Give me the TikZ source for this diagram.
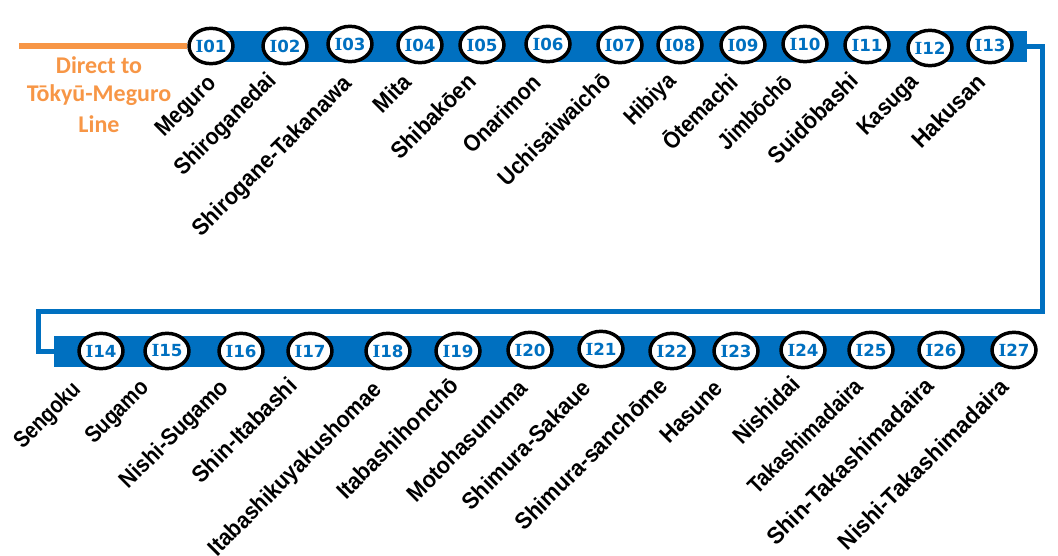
\documentclass[tikz,border=0pt]{standalone}
\usepackage{fontspec}
\usepackage{graphicx}
\usetikzlibrary{shapes.geometric}
\setmainfont{Liberation Sans}
\newfontfamily\codesans{DejaVu Sans}
\newfontfamily\codeserif{DejaVu Serif}
\newfontfamily\notefont{Carlito}
\definecolor{lineblue}{HTML}{0070C0}
\definecolor{noteorange}{HTML}{F79646}
\newcommand{\stcode}[1]{{\codeserif\bfseries I}#1}
\newcommand{\fitlabel}[2]{\resizebox{\dimexpr #1pt*104/100\relax}{\height}{#2}}
\tikzset{
  x=0.75pt,y=-0.75pt,
  bar/.style={fill=lineblue,draw=none,inner sep=0pt,minimum height=23.25pt},
  conn/.style={draw=lineblue,line width=4.2pt},
  station/.style={ellipse,draw=black,line width=2.6pt,fill=white,minimum width=33pt,minimum height=26.5pt,inner sep=0pt,text=lineblue,font=\codesans\bfseries\fontsize{12.5}{13}\selectfont},
  stlabel/.style={rotate=45,anchor=center,inner sep=0pt,outer sep=0pt,font=\bfseries\fontsize{17.5}{19}\selectfont,text=black},
  note/.style={text=noteorange,font=\notefont\bfseries\fontsize{18}{20}\selectfont,inner sep=0pt}
}
\begin{document}
\begin{tikzpicture}
\useasboundingbox (0,0) rectangle (1058,556);
\node[bar,minimum width=616.5pt] (bar1) at (616,46.5) {};
\node[bar,minimum width=728.25pt] (bar2) at (539.5,351.5) {};
\coordinate (cR) at (1042.5,311.5);
\coordinate (cL) at (38.5,311.5);
\coordinate (od) at (19,46);
\draw[conn] (bar1.east) -| (cR) -- (cL) |- (bar2.west);
\foreach \n/\code/\x/\y/\lab/\lx/\ly/\lw in {
 I01/01/211/46/Meguro/187/107/53.6,
 I02/02/285/46/Shiroganedai/226/125/96,
 I03/03/350/44/Shirogane-Takanawa/273/157/155,
 I04/04/420/45/Mita/392/93/31,
 I05/05/482/45/Shibakōen/433/116/79,
 I06/06/548/44/Onarimon/502/114/71.5,
 I07/07/620/45/Uchisaiwaichō/554/129/107,
 I08/08/680/45/Hibiya/651/100/44.5,
 I09/09/743/45/Ōtemachi/699/111/68.5,
 I10/10/805/44/Jimbōchō/755/112/68,
 I11/11/867/45/Suidōbashi/813/118/84,
 I12/12/930/48/Kasuga/889/106/54.7,
 I13/13/990/45/Hakusan/948/111/67,
 I14/14/101/351/Sengoku/48/416/60,
 I15/15/167/351/Sugamo/118/413/57,
 I16/16/241/351/Nishi-Sugamo/175/435/102.5,
 I17/17/310/351/Shin-Itabashi/244/430/99,
 I18/18/388/351/Itabashikuyakushomae/296/470/169,
 I19/19/458/351/Itabashihonchō/397/438/116,
 I20/20/530/350/Motohasunuma/467/441/115,
 I21/21/601/349/Shimura-Sakaue/526/445/123.6,
 I22/22/672/351/Shimura-sanchōme/591/454/147,
 I23/23/736/351/Hasune/691/412/55.7,
 I24/24/803/350/Nishidai/766/410/60.8,
 I25/25/871/350/Takashimadaira/805/436/109.6,
 I26/26/941/350/Shin-Takashimadaira/850/461/162.6,
 I27/27/1014/350/Nishi-Takashimadaira/923/464/165.8}{
  \node[station] (\n) at (\x,\y) {\stcode{\code}};
  \node[stlabel] (lab\n) at (\lx,\ly) {\fitlabel{\lw}{\lab}};
}
\draw[draw=noteorange,line width=3.8pt] (od) -- (I01.west);
\node[note] (n1) at (99,65) {Direct to};
\node[note] (n2) at (99,95) {Tōkyū-Meguro};
\node[note] (n3) at (99,124) {Line};
\end{tikzpicture}
\end{document}
